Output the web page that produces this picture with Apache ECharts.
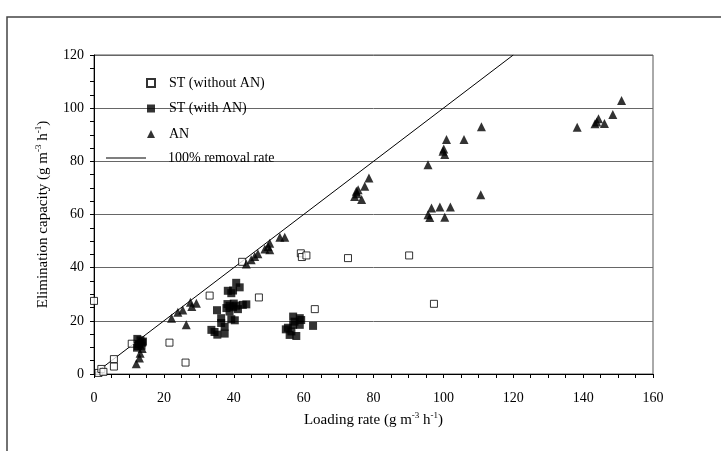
<!DOCTYPE html>
<html>
<head>
    <meta charset="utf-8">
    <script src="https://cdn.jsdelivr.net/npm/echarts@6/dist/echarts.min.js"></script>
    <style>
        body { margin: 0; background: #fff; }
        #main { width: 721px; height: 451px; }
    </style>
</head>
<body>
<div id="main"></div>
<script type="text/javascript">
    // ST without AN (open squares)
    var stWithout = [
        [0, 27.5], [1.3, 0.4], [2.1, 1.9], [2.7, 0.8], [5.7, 5.6], [5.7, 2.8],
        [10.8, 11.4], [21.6, 11.8], [26.2, 4.3], [33.1, 29.5], [42.4, 42.2],
        [47.2, 28.8], [59.2, 45.4], [59.5, 44.0], [60.8, 44.6], [63.2, 24.4],
        [72.7, 43.6], [90.2, 44.6], [97.3, 26.4]
    ];
    // ST with AN (filled squares)
    var stWith = [
        [12.4, 13.2], [13.3, 12.7], [14.0, 12.2], [12.9, 11.3], [13.6, 10.6],
        [12.3, 9.9], [13.8, 11.8], [12.6, 10.5],
        [33.6, 16.6], [34.5, 15.8], [35.3, 14.8], [35.2, 24.0], [36.4, 21.0],
        [36.4, 19.2], [37.4, 17.8], [37.4, 15.2], [37.9, 24.8], [38.3, 31.3],
        [38.8, 25.6], [38.8, 23.5], [39.3, 30.4], [39.3, 20.6], [39.8, 31.4],
        [39.8, 25.1], [40.3, 20.2], [40.7, 34.3], [40.7, 25.7], [41.2, 24.4],
        [41.7, 32.6], [42.6, 26.0], [43.6, 26.2], [38.2, 26.3], [40.0, 26.5],
        [54.9, 16.8], [55.5, 17.4], [56.0, 14.7], [57.0, 21.6], [57.4, 19.7],
        [57.0, 18.5], [57.9, 14.3], [58.9, 21.0], [58.9, 18.5], [59.3, 20.3],
        [62.7, 18.1], [56.5, 16.0]
    ];
    // AN (triangles)
    var an = [
        [12.1, 3.9], [13.0, 6.0], [13.2, 7.8], [13.8, 9.6],
        [22.2, 21.0], [24.0, 23.2], [25.4, 24.1], [26.4, 18.5], [27.6, 27.0],
        [28.0, 25.4], [29.3, 26.6],
        [43.6, 41.4], [45.0, 43.0], [46.0, 44.2], [46.9, 45.2], [48.9, 47.0],
        [49.8, 48.0], [50.3, 49.2], [50.3, 46.7], [53.2, 51.4], [54.6, 51.4],
        [74.6, 66.8], [75.1, 68.7], [75.6, 69.3], [75.3, 67.8], [76.6, 65.6],
        [77.5, 70.6], [78.7, 73.7],
        [95.6, 78.7], [99.9, 83.8], [100.1, 84.6], [100.4, 82.6], [100.9, 88.2],
        [105.9, 88.2], [110.9, 93.0],
        [95.6, 59.9], [96.1, 58.9], [96.6, 62.4], [99.0, 62.8], [100.4, 59.0],
        [102.0, 62.8], [110.7, 67.4],
        [138.3, 92.8], [143.4, 94.1], [143.9, 94.8], [144.4, 96.0], [146.1, 94.2],
        [148.5, 97.6], [151.0, 102.9]
    ];
    // 100% removal rate: EC = LR
    var removalLine = [[0, 0], [120, 120]];

    var font = 'Liberation Serif, Times New Roman, serif';
    var supRich = {
        sup: { fontSize: 9, lineHeight: 9, verticalAlign: 'top', fontFamily: font, color: '#000' }
    };
    var legendText = { fontFamily: font, fontSize: 14, color: '#000', lineHeight: 16 };

    var chart = echarts.init(document.getElementById('main'));

    var option = {
        backgroundColor: '#fff',
        animation: false,
        textStyle: { fontFamily: font, color: '#000' },
        graphic: [{
            type: 'rect',
            shape: { x: 7, y: 17, width: 730, height: 450 },
            style: { fill: 'none', stroke: '#444', lineWidth: 1.5 },
            silent: true
        }],
        grid: {
            left: 94, top: 55, right: 68, bottom: 77,
            show: true, borderColor: '#555', borderWidth: 1
        },
        legend: [{
            orient: 'vertical', left: 146, top: 75, padding: 0,
            itemWidth: 8, itemHeight: 8, itemGap: 9.5,
            data: [
                { name: 'ST (without AN)', icon: 'rect' },
                { name: 'ST (with AN)', icon: 'rect' },
                { name: 'AN', icon: 'triangle' }
            ],
            textStyle: Object.assign({ padding: [0, 0, 0, 9] }, legendText)
        }, {
            orient: 'vertical', left: 106, top: 150, padding: 0,
            itemWidth: 40, itemHeight: 1,
            data: [{ name: '100% removal rate', icon: 'rect' }],
            itemStyle: { color: '#000' },
            textStyle: Object.assign({ padding: [0, 0, 0, 17] }, legendText)
        }],
        xAxis: {
            type: 'value', min: 0, max: 160, interval: 20,
            name: 'Loading rate (g m{sup|-3} h{sup|-1})',
            nameLocation: 'middle', nameGap: 37,
            nameTextStyle: { fontFamily: font, fontSize: 15, color: '#000', lineHeight: 18, rich: supRich },
            axisLine: { lineStyle: { color: '#000', width: 1 } },
            axisTick: { inside: false, length: 4, lineStyle: { color: '#000' } },
            minorTick: { show: true, splitNumber: 4, length: 4, lineStyle: { color: '#000' } },
            axisLabel: { fontFamily: font, fontSize: 14, color: '#000', margin: 17 },
            splitLine: { show: false }
        },
        yAxis: {
            type: 'value', min: 0, max: 120, interval: 20,
            name: 'Elimination capacity (g m{sup|-3} h{sup|-1})',
            nameLocation: 'middle', nameGap: 32,
            nameTextStyle: { fontFamily: font, fontSize: 15, color: '#000', lineHeight: 18, rich: supRich },
            axisLine: { show: true, lineStyle: { color: '#000', width: 1 } },
            axisTick: { show: true, inside: false, length: 4, lineStyle: { color: '#000' } },
            minorTick: { show: true, splitNumber: 4, length: 4, lineStyle: { color: '#000' } },
            axisLabel: { fontFamily: font, fontSize: 14, color: '#000', margin: 10 },
            splitLine: { show: true, lineStyle: { color: '#666', width: 1 } }
        },
        series: [
            {
                name: 'ST (without AN)', type: 'scatter', data: stWithout,
                symbol: 'rect', symbolSize: 7,
                itemStyle: { color: '#fff', borderColor: '#000', borderWidth: 1 },
                z: 3
            },
            {
                name: 'ST (with AN)', type: 'scatter', data: stWith,
                symbol: 'rect', symbolSize: 8,
                itemStyle: { color: '#000' },
                z: 4
            },
            {
                name: 'AN', type: 'scatter', data: an,
                symbol: 'triangle', symbolSize: 9,
                itemStyle: { color: '#000' },
                z: 5
            },
            {
                name: '100% removal rate', type: 'line', data: removalLine,
                symbol: 'none', showSymbol: false,
                lineStyle: { color: '#000', width: 1 },
                itemStyle: { color: '#000' },
                z: 2
            }
        ]
    };

    chart.setOption(option);
</script>
</body>
</html>
